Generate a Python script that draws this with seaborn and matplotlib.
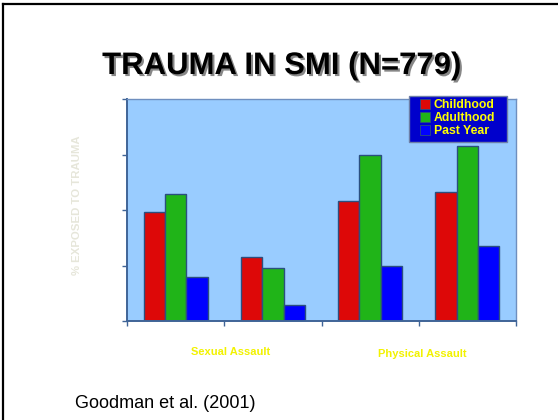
import matplotlib
matplotlib.use("Agg")
import matplotlib.pyplot as plt
import matplotlib.patheffects as pe
from matplotlib.patches import Patch, Rectangle
from matplotlib.lines import Line2D
import seaborn as sns
import pandas as pd

# ---- data ----
groups = ["Sexual Assault (A)", "Sexual Assault (B)", "Physical Assault (A)", "Physical Assault (B)"]
series = ["Childhood", "Adulthood", "Past Year"]
childhood = [49, 29, 54, 58]
adulthood = [57, 24, 75, 79]
past_year = [20, 7, 25, 34]
group_labels = ["Sexual Assault", "Physical Assault"]
title = "TRAUMA IN SMI (N=779)"
ylabel = "% EXPOSED TO TRAUMA"
citation = "Goodman et al. (2001)"

colors = ["#dd0808", "#20b418", "#0000ff"]

rows = []
for name, vals in zip(series, [childhood, adulthood, past_year]):
    for g, v in zip(groups, vals):
        rows.append({"group": g, "series": name, "value": v})
df = pd.DataFrame(rows)

plt.rcParams["font.family"] = ["Liberation Sans", "DejaVu Sans"]

fig = plt.figure(figsize=(5.58, 4.2), dpi=100)
fig.patch.set_facecolor("white")
ax = fig.add_axes([127 / 558, 1 - 321 / 420, 389 / 558, 222 / 420])
ax.set_facecolor("#99ccff")

sns.barplot(data=df, x="group", y="value", hue="series", order=groups,
            hue_order=series, palette=colors, width=0.66, gap=0,
            edgecolor="#2b4f80", linewidth=1.0, saturation=1, ax=ax,
            legend=False)

ax.set_xlim(-0.5, len(groups) - 0.5)
ax.set_ylim(0, 100)
ax.set_yticks([0, 25, 50, 75, 100])
ax.set_yticklabels([])
ax.set_xticks([i - 0.5 for i in range(len(groups) + 1)])
ax.set_xticklabels([])
ax.set_xlabel("")
ax.set_ylabel("")
ax.tick_params(axis="both", direction="out", length=3.5, width=1.0, color="#3f6497")
for s in ["left", "bottom"]:
    ax.spines[s].set_color("#3f6497")
    ax.spines[s].set_linewidth(1.4)
for s in ["top", "right"]:
    ax.spines[s].set_color("#6f8fbf")
    ax.spines[s].set_linewidth(1.0)

# legend: dark-blue box drawn behind a frameless legend
box = Rectangle((0.725, 0.806), 0.252, 0.2075, transform=ax.transAxes,
                facecolor="#0000cc", edgecolor="#6d7fa8", linewidth=1.0,
                clip_on=False, zorder=4)
ax.add_patch(box)
handles = [Patch(facecolor=c, edgecolor="#2b4f80", linewidth=0.6) for c in colors]
leg = ax.legend(handles, series, loc="upper left", bbox_to_anchor=(0.754, 0.998),
                frameon=False, handlelength=0.82, handleheight=0.82, handletextpad=0.3,
                labelspacing=0.08, borderpad=0, borderaxespad=0,
                prop={"weight": "bold", "size": 8.8})
leg.set_zorder(5)
for t in leg.get_texts():
    t.set_color("#ffff00")

# group labels
fig.text(231 / 558, 1 - 352 / 420, group_labels[0], ha="center", va="center",
         color="#f2f200", fontsize=8, fontweight="bold")
fig.text(422 / 558, 1 - 354 / 420, group_labels[1], ha="center", va="center",
         color="#f2f200", fontsize=8, fontweight="bold")

# y label
fig.text(77 / 558, 1 - 205 / 420, ylabel, rotation=90, ha="center", va="center",
         color="#e6e6da", fontsize=8.2, fontweight="bold")

# title
fig.text(282 / 558, 1 - 66 / 420, title, ha="center", va="center", fontsize=22.4,
         fontweight="bold", color="black",
         path_effects=[pe.withSimplePatchShadow(offset=(1.5, -1.5), shadow_rgbFace="#555555", alpha=0.7)])

# citation
fig.text(75 / 558, 1 - 404 / 420, citation, ha="left", va="center", fontsize=13, color="black")

# slide frame (top and left)
fig.add_artist(Line2D([3 / 558, 1], [1 - 4 / 420, 1 - 4 / 420], transform=fig.transFigure,
                      color="black", linewidth=1.6))
fig.add_artist(Line2D([3 / 558, 3 / 558], [0, 1 - 4 / 420], transform=fig.transFigure,
                      color="black", linewidth=1.6))

fig.savefig("out.png", dpi=100)
